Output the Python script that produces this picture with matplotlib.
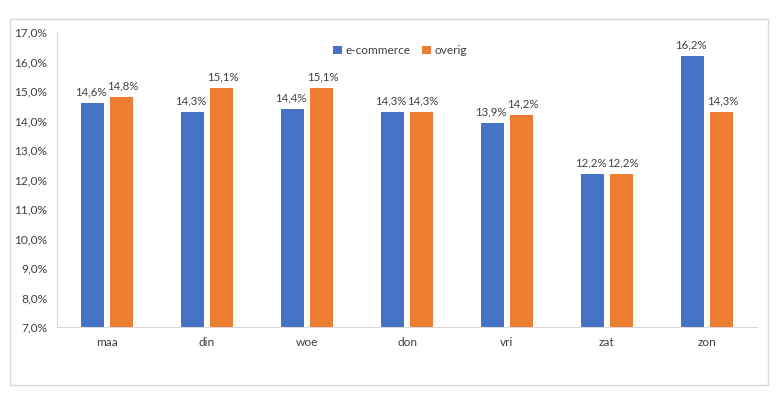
import matplotlib
matplotlib.use("Agg")
import matplotlib.pyplot as plt
from matplotlib.patches import Rectangle
import numpy as np

categories = ["maa", "din", "woe", "don", "vri", "zat", "zon"]
ecommerce = [14.6, 14.3, 14.4, 14.3, 13.9, 12.2, 16.2]
overig = [14.8, 15.1, 15.1, 14.3, 14.2, 12.2, 14.3]
yticks = [7, 8, 9, 10, 11, 12, 13, 14, 15, 16, 17]

plt.rcParams['font.family'] = ['Lato', 'DejaVu Sans']
W, H = 782, 401
fig = plt.figure(figsize=(W/100, H/100), dpi=100)
fig.patches.append(Rectangle((10/W, 1-385/H), (768-10)/W, (385-19)/H,
                             transform=fig.transFigure, fill=False,
                             edgecolor='#d9d9d9', linewidth=1))
ax = fig.add_axes([57/W, 1-327/H, (757-57)/W, (327-32)/H])
x = np.arange(len(categories))
bw = 0.23
gap = 0.06
off = (bw + gap) / 2
b1 = ax.bar(x - off, np.array(ecommerce) - 7, bw, bottom=7, color='#4472C4', label='e-commerce')
b2 = ax.bar(x + off, np.array(overig) - 7, bw, bottom=7, color='#ED7D31', label='overig')
txtc = '#404040'
fs = 8.6
for bars, vals, dx in ((b1, ecommerce, -1.2), (b2, overig, 1.2)):
    for r, v in zip(bars, vals):
        ax.annotate(f"{v:.1f}%".replace('.', ','),
                    (r.get_x() + r.get_width()/2, v), xytext=(dx, 4),
                    textcoords='offset points', ha='center', va='bottom',
                    fontsize=8.2, color=txtc)
ax.set_xlim(-0.5, len(categories) - 0.5)
ax.set_ylim(7, 17)
ax.set_yticks(yticks)
ax.set_yticklabels([f"{t:.1f}%".replace('.', ',') for t in yticks], fontsize=fs, color=txtc)
ax.set_xticks(x)
ax.set_xticklabels(categories, fontsize=fs, color=txtc)
ax.tick_params(axis='both', length=0)
ax.tick_params(axis='y', pad=7)
ax.tick_params(axis='x', pad=7)
for s in ['top', 'right']:
    ax.spines[s].set_visible(False)
ax.spines['left'].set_color('#d9d9d9')
ax.spines['bottom'].set_color('#d9d9d9')
leg = ax.legend(loc='center', bbox_to_anchor=((400-57)/700, (327-51)/295), ncol=2,
                frameon=False, fontsize=fs, handlelength=0.7, handleheight=0.7,
                handletextpad=0.3, columnspacing=1.0, labelcolor=txtc)
fig.savefig("out.png", dpi=100)
